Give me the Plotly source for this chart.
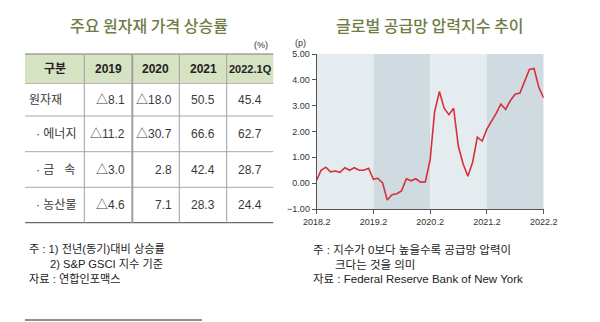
import pandas as pd
import plotly.graph_objects as go

W, H = 600, 322

# ---------------- data ----------------
left_title = "주요 원자재 가격 상승률"
right_title = "글로벌 공급망 압력지수 추이"
col_headers = ["구분", "2019", "2020", "2021", "2022.1Q"]
row_labels = ["원자재", "· 에너지", "· 금\u00a0\u00a0\u00a0속", "· 농산물"]
v2019 = [-8.1, -11.2, -3.0, -4.6]
v2020 = [-18.0, -30.7, 2.8, 7.1]
v2021 = [50.5, 66.6, 42.4, 28.3]
v2022q1 = [45.4, 62.7, 28.7, 24.4]

gscpi_start = "2018-02-01"
gscpi = [0.12, 0.50, 0.62, 0.44, 0.47, 0.42, 0.60, 0.50, 0.60, 0.50, 0.50,
         0.58, 0.15, 0.19, 0.01, -0.65, -0.45, -0.41, -0.30, 0.17, 0.09, 0.17, 0.04,
         0.05, 0.90, 2.77, 3.55, 2.90, 2.65, 2.90, 1.42, 0.73, 0.27, 0.82, 1.78,
         1.63, 2.10, 2.37, 2.70, 3.06, 2.86, 3.19, 3.44, 3.49, 3.95, 4.40, 4.44,
         3.70, 3.30]
months = pd.date_range(gscpi_start, periods=len(gscpi), freq="MS")
tick_dates = ["2018-02-01", "2019-02-01", "2020-02-01", "2021-02-01", "2022-02-01"]
tick_labels = ["2018.2", "2019.2", "2020.2", "2021.2", "2022.2"]

left_notes = ["주 : 1) 전년(동기)대비 상승률", "2) S&P GSCI 지수 기준", "자료 : 연합인포맥스"]
right_notes = ["주 : 지수가 0보다 높을수록 공급망 압력이", "크다는 것을 의미",
               "자료 : Federal Reserve Bank of New York"]

# ---------------- helpers ----------------
FONT = "Liberation Sans, Arial, Noto Sans CJK KR, sans-serif"
KFONT = "Noto Sans CJK KR, sans-serif"


def px(x):
    return x / W


def py(y):
    return 1 - y / H


annotations = []
shapes = []


def text(x, y, s, size=12, color="#333333", anchor="left", family=FONT, weight=None):
    f = dict(size=size, color=color, family=family)
    if weight:
        f["weight"] = weight
    annotations.append(dict(x=px(x), y=py(y), xref="paper", yref="paper", text=s,
                            showarrow=False, xanchor=anchor, yanchor="middle",
                            borderpad=0, borderwidth=0, font=f))


def hline(x0, x1, y, color="#9a9a9a", width=1):
    shapes.append(dict(type="line", xref="paper", yref="paper", x0=px(x0), x1=px(x1),
                       y0=py(y), y1=py(y), line=dict(color=color, width=width)))


def vline(x, y0, y1, color="#9a9a9a", width=1):
    shapes.append(dict(type="line", xref="paper", yref="paper", x0=px(x), x1=px(x),
                       y0=py(y0), y1=py(y1), line=dict(color=color, width=width)))


def fmt(v):
    return ("△" + f"{-v:.1f}") if v < 0 else f"{v:.1f}"


# ---------------- left: table ----------------
TITLE_COLOR = "#6f7d45"
text(149, 25, left_title, size=16, color=TITLE_COLOR, anchor="center", family=KFONT,
     weight=500)
text(268, 45, "(%)", size=9, anchor="right")

tx0, tx1 = 25, 273.3
col_x = [25, 84.3, 132.3, 179.3, 226.7, 273.3]
row_y = [54, 83.5, 116, 151.7, 187.3, 222.7]

shapes.append(dict(type="rect", xref="paper", yref="paper", x0=px(tx0), x1=px(tx1),
                   y0=py(row_y[0]), y1=py(row_y[1]), fillcolor="#d6e3c3",
                   line=dict(width=0), layer="below"))
hline(tx0, tx1, row_y[0], color="#7a7a7a", width=1)
hline(tx0, tx1, row_y[1], color="#b5b5b5", width=1)
for yy in row_y[2:5]:
    hline(tx0, tx1, yy, color="#a8a8a8", width=1)
hline(tx0, tx1, row_y[5], color="#6a6a6a", width=1.2)
for i, xx in enumerate(col_x[1:5]):
    vline(xx, row_y[0], row_y[5], color="#a0a0a0", width=2 if i == 1 else 1)

hy = (row_y[0] + row_y[1]) / 2
for i, h in enumerate(col_headers):
    cx = (col_x[i] + col_x[i + 1]) / 2
    text(cx, hy, "<b>" + h + "</b>", size=11 if i == 4 else 12, color="#222222",
         anchor="center")

cols = [v2019, v2020, v2021, v2022q1]
for r, lab in enumerate(row_labels):
    cy = (row_y[r + 1] + row_y[r + 2]) / 2
    text(29 if r == 0 else 36, cy, lab, size=12, color="#3a3a3a")
    for c, series in enumerate(cols):
        if c < 2:
            text(col_x[c + 2] - 7, cy, fmt(series[r]), size=12, color="#3a3a3a",
                 anchor="right")
        else:
            text((col_x[c + 1] + col_x[c + 2]) / 2, cy, fmt(series[r]), size=12,
                 color="#3a3a3a", anchor="center")

text(29, 249, left_notes[0], size=11.2, color="#222222")
text(50, 264, left_notes[1], size=11.2, color="#222222")
text(29, 279, left_notes[2], size=11.2, color="#222222")
hline(25, 202, 320, color="#222222", width=1)

# ---------------- right: line chart ----------------
text(429, 25, right_title, size=16, color=TITLE_COLOR, anchor="center", family=KFONT,
     weight=500)
text(295, 43, "(p)", size=9)

band_colors = ["#e5ecf0", "#cfdae1", "#e5ecf0", "#cfdae1"]
for i in range(len(tick_dates) - 1):
    shapes.append(dict(type="rect", xref="x", yref="y", x0=tick_dates[i],
                       x1=tick_dates[i + 1], y0=-1, y1=5, fillcolor=band_colors[i],
                       line=dict(width=0), layer="below"))

fig = go.Figure()
fig.add_trace(go.Scatter(x=months, y=gscpi, mode="lines",
                         line=dict(color="#d6303b", width=1.6), hoverinfo="skip"))

text(313, 250, right_notes[0], size=11.5, color="#222222")
text(335, 265, right_notes[1], size=11.5, color="#222222")
text(313, 279, right_notes[2], size=11.5, color="#222222")

fig.update_layout(
    width=W, height=H, margin=dict(l=0, r=0, t=0, b=0, pad=0),
    paper_bgcolor="white", plot_bgcolor="white", showlegend=False,
    annotations=annotations, shapes=shapes,
    xaxis=dict(domain=[px(316.7), px(543.7)], range=[tick_dates[0], tick_dates[-1]],
               tickvals=tick_dates, ticktext=tick_labels, ticks="outside", ticklen=4,
               tickcolor="#555555", showline=True, linecolor="#555555", linewidth=1,
               showgrid=False, zeroline=False, automargin=False,
               tickfont=dict(size=9, color="#333333", family=FONT)),
    yaxis=dict(domain=[py(209), py(54)], range=[-1, 5], dtick=1, tickformat=".2f",
               ticks="outside", ticklen=4, tickcolor="#555555", showline=True,
               linecolor="#555555", linewidth=1, showgrid=False, zeroline=False,
               automargin=False,
               tickfont=dict(size=9, color="#333333", family=FONT)),
)

fig.write_html("out.html")
